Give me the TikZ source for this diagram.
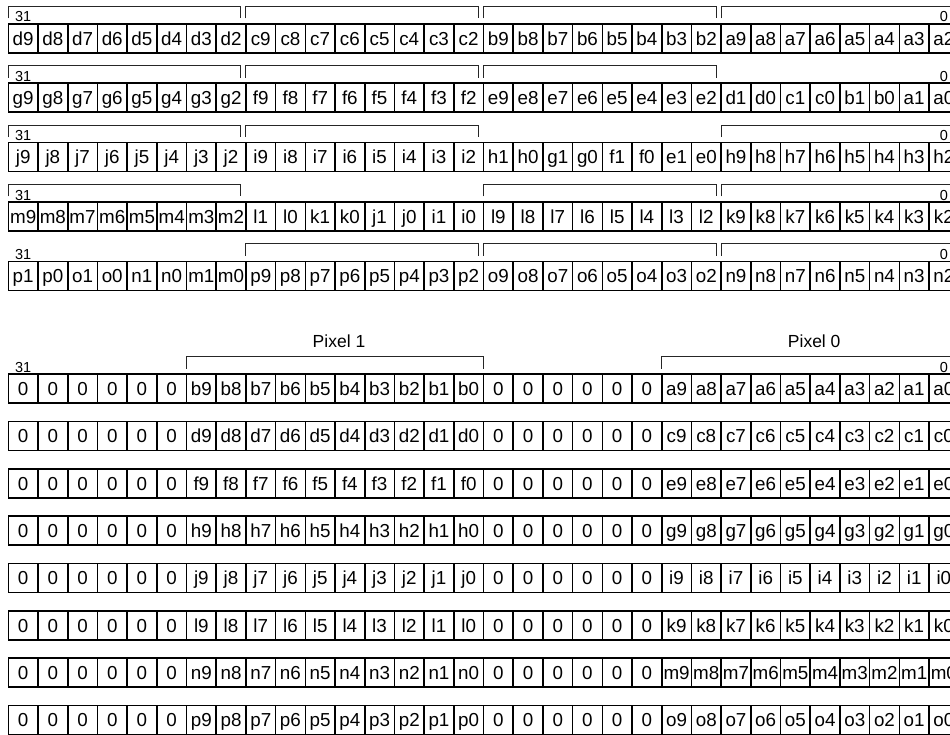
\documentclass[tikz,border=0pt]{standalone}
\usepackage{fontspec}
\setmainfont{Liberation Sans}
\usetikzlibrary{calc}
\tikzset{
 cell/.style={draw=black, line width=1.6pt, outer sep=0pt, minimum width=29.7pt, minimum height=29pt, inner sep=0pt, text height=17.5pt, text depth=4pt, font=\fontsize{18.8}{18.8}\selectfont},
 brk/.style={draw=black!85, line width=0.9pt},
 small/.style={font=\fontsize{14.5}{14.5}\selectfont, inner sep=0pt, anchor=base},
 pix/.style={font=\fontsize{17.5}{17.5}\selectfont, inner sep=0pt, anchor=base},
}
\begin{document}
\begin{tikzpicture}[x=1pt,y=1pt]
\useasboundingbox (0,0) rectangle (950,734);
% ---------- top section ----------
\foreach \labels [count=\r from 0] in {
 {d9,d8,d7,d6,d5,d4,d3,d2,c9,c8,c7,c6,c5,c4,c3,c2,b9,b8,b7,b6,b5,b4,b3,b2,a9,a8,a7,a6,a5,a4,a3,a2},
 {g9,g8,g7,g6,g5,g4,g3,g2,f9,f8,f7,f6,f5,f4,f3,f2,e9,e8,e7,e6,e5,e4,e3,e2,d1,d0,c1,c0,b1,b0,a1,a0},
 {j9,j8,j7,j6,j5,j4,j3,j2,i9,i8,i7,i6,i5,i4,i3,i2,h1,h0,g1,g0,f1,f0,e1,e0,h9,h8,h7,h6,h5,h4,h3,h2},
 {m9,m8,m7,m6,m5,m4,m3,m2,l1,l0,k1,k0,j1,j0,i1,i0,l9,l8,l7,l6,l5,l4,l3,l2,k9,k8,k7,k6,k5,k4,k3,k2},
 {p1,p0,o1,o0,n1,n0,m1,m0,p9,p8,p7,p6,p5,p4,p3,p2,o9,o8,o7,o6,o5,o4,o3,o2,n9,n8,n7,n6,n5,n4,n3,n2}} {
  \pgfmathsetmacro\yc{734-(38.3+59.4*\r)}
  \foreach \t [count=\i from 0] in \labels {
    \node[cell] (t\r-\i) at ({23.15+29.7*\i},\yc) {\t};
  }
  \node[small] (tl\r) at ($(t\r-0.north)+(0,1.8pt)$) {31};
  \node[small] (tr\r) at ($(t\r-31.north)+(0,1.8pt)$) {0};
}
\foreach \r/\g in {0/0,0/1,0/2,0/3,1/0,1/1,1/2,2/0,2/1,2/3,3/0,3/2,3/3,4/1,4/2,4/3} {
  \pgfmathtruncatemacro\a{8*\g}
  \pgfmathtruncatemacro\b{8*\g+7}
  \draw[brk] ($(t\r-\a.north west)+(0,5.5pt)$) -- ++(0,12pt)
     -- ($(t\r-\b.north east)+(-5pt,17.5pt)$) -- ++(0,-12pt);
}
% ---------- bottom section ----------
\foreach \hi/\lo [count=\r from 0] in {b/a,d/c,f/e,h/g,j/i,l/k,n/m,p/o} {
  \pgfmathsetmacro\yc{734-(388.8+47.3*\r)}
  \foreach \i in {0,...,5} {
    \node[cell] (b\r-\i) at ({23.15+29.7*\i},\yc) {0};
  }
  \foreach \k [count=\j from 6] in {9,8,...,0} {
    \node[cell] (b\r-\j) at ({23.15+29.7*\j},\yc) {\hi\k};
  }
  \foreach \i in {16,...,21} {
    \node[cell] (b\r-\i) at ({23.15+29.7*\i},\yc) {0};
  }
  \foreach \k [count=\j from 22] in {9,8,...,0} {
    \node[cell] (b\r-\j) at ({23.15+29.7*\j},\yc) {\lo\k};
  }
}
\node[small] (bl) at ($(b0-0.north)+(0,1.8pt)$) {31};
\node[small] (br) at ($(b0-31.north)+(0,1.8pt)$) {0};
\draw[brk] ($(b0-6.north west)+(0,5.5pt)$) -- ++(0,12pt)
   -- ($(b0-15.north east)+(0,17.5pt)$) -- ++(0,-12pt);
\draw[brk] ($(b0-22.north west)+(0,5.5pt)$) -- ++(0,12pt)
   -- ($(b0-31.north east)+(-5pt,17.5pt)$) -- ++(0,-12pt);
\node[pix] (p1) at ($($(b0-6.north west)!0.5!(b0-15.north east)$)+(4pt,26.5pt)$) {Pixel 1};
\node[pix] (p0) at ($($(b0-22.north west)!0.5!(b0-31.north east)$)+(4pt,26.5pt)$) {Pixel 0};
\end{tikzpicture}
\end{document}
